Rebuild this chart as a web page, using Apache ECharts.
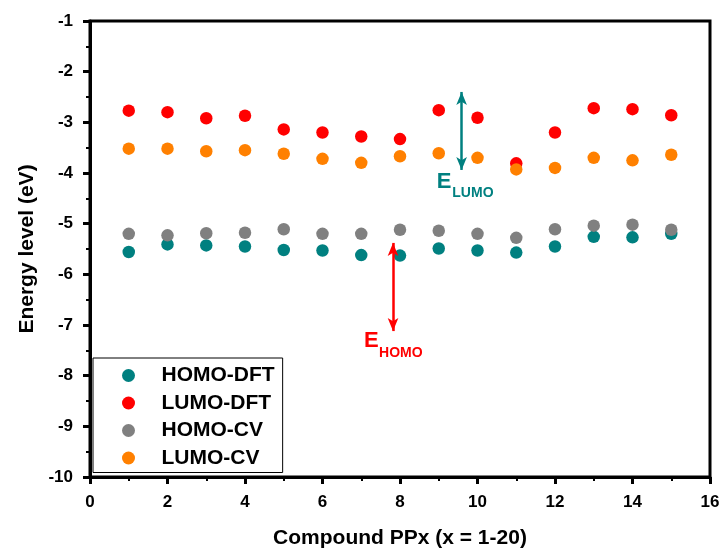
<!DOCTYPE html>
<html>
<head>
<meta charset="utf-8">
<script src="https://cdn.jsdelivr.net/npm/echarts@6/dist/echarts.min.js"></script>
<style>
html,body{margin:0;padding:0;background:#fff;}
#chart{width:721px;height:551px;}
</style>
</head>
<body>
<div id="chart"></div>
<script>
const compounds = [1,2,3,4,5,6,7,8,9,10,11,12,13,14,15];
const homoDFT = [-5.56,-5.41,-5.43,-5.45,-5.52,-5.53,-5.62,-5.63,-5.49,-5.53,-5.57,-5.45,-5.26,-5.27,-5.20];
const lumoDFT = [-2.77,-2.80,-2.92,-2.87,-3.14,-3.20,-3.28,-3.33,-2.76,-2.91,-3.81,-3.20,-2.72,-2.74,-2.86];
const homoCV  = [-5.20,-5.23,-5.19,-5.18,-5.11,-5.20,-5.20,-5.12,-5.14,-5.20,-5.28,-5.11,-5.04,-5.02,-5.12];
const lumoCV  = [-3.52,-3.52,-3.57,-3.55,-3.62,-3.72,-3.80,-3.67,-3.61,-3.70,-3.93,-3.90,-3.70,-3.75,-3.64];
const seriesNames = ['HOMO-DFT','LUMO-DFT','HOMO-CV','LUMO-CV'];
const seriesColors = ['#008080','#ff0000','#808080','#ff8000'];
// annotation arrows (data coordinates)
const lumoArrow = [[9.59,-2.40],[9.59,-3.94]];
const homoArrow = [[7.82,-5.38],[7.82,-7.12]];
// annotation labels: [main letter pos, subscript pos] in data coords
const lumoLabel = {main:[8.95,-4.17], sub:[9.35,-4.40], text:'LUMO'};
const homoLabel = {main:[7.07,-7.32], sub:[7.46,-7.56], text:'HOMO'};

const FONT = "'Liberation Sans', Arial, sans-serif";
const chart = echarts.init(document.getElementById('chart'), null, {renderer:'canvas'});
const allData = [homoDFT, lumoDFT, homoCV, lumoCV];

function pairs(arr){ return compounds.map((c,i)=>[c, arr[i]]); }

const series = allData.map((arr, i) => ({
  name: seriesNames[i],
  type: 'scatter',
  data: pairs(arr),
  symbol: 'circle',
  symbolSize: 12.5,
  itemStyle: {color: seriesColors[i], opacity: 1},
  emphasis: {disabled: true},
  z: 3 + i
}));
series[0].markLine = {
  silent: true, symbol: ['arrow','arrow'], symbolSize: [8,13],
  label: {show:false},
  lineStyle: {color:'#ff0000', width:2.5, type:'solid'},
  data: [[{coord: homoArrow[0]}, {coord: homoArrow[1]}]]
};
series[3].markLine = {
  silent: true, symbol: ['arrow','arrow'], symbolSize: [8,13],
  label: {show:false},
  lineStyle: {color:'#008080', width:2.5, type:'solid'},
  data: [[{coord: lumoArrow[0]}, {coord: lumoArrow[1]}]]
};

const axisCommon = {
  axisLine: {show:true, onZero:false, lineStyle:{color:'#000', width:3}},
  axisTick: {show:true, inside:false, length:7, lineStyle:{color:'#000', width:3}},
  minorTick: {show:true, splitNumber:2, length:4, lineStyle:{color:'#000', width:2}},
  splitLine: {show:false},
  minorSplitLine: {show:false},
  axisLabel: {color:'#000', fontFamily:FONT, fontWeight:'bold', fontSize:17},
  nameTextStyle: {color:'#000', fontFamily:FONT, fontWeight:'bold', fontSize:21}
};

chart.setOption({
  animation: false,
  backgroundColor: '#fff',
  grid: {left:90, right:11, top:21, bottom:74, containLabel:false, outerBoundsMode:'none',
         show:true, borderColor:'#000', borderWidth:3, backgroundColor:'transparent'},
  xAxis: Object.assign({}, axisCommon, {
    type:'value', min:0, max:16, interval:2,
    name:'Compound PPx (x = 1-20)', nameLocation:'middle', nameGap:51,
    axisLabel: Object.assign({}, axisCommon.axisLabel, {margin:17})
  }),
  yAxis: Object.assign({}, axisCommon, {
    type:'value', min:-10, max:-1, interval:1,
    name:'Energy level (eV)', nameLocation:'middle', nameGap:50,
    axisLabel: Object.assign({}, axisCommon.axisLabel, {margin:17})
  }),
  legend: {
    orient:'vertical', left:93, top:358,
    data: seriesNames.map(n => ({name:n, icon:'circle'})),
    itemWidth:56, itemHeight:13, itemGap:6.5,
    padding:[7,8,4,29],
    borderColor:'#000', borderWidth:1,
    backgroundColor:'#fff',
    selectedMode:false,
    textStyle:{color:'#000', fontFamily:FONT, fontWeight:'bold', fontSize:21}
  },
  series: series
});

function labelGraphics(lbl, color){
  const m = chart.convertToPixel({gridIndex:0}, lbl.main);
  const s = chart.convertToPixel({gridIndex:0}, lbl.sub);
  return [
    {type:'text', x:m[0], y:m[1], z:100, style:{text:'E', fill:color, font:"bold 22px " + FONT, textAlign:'left', textVerticalAlign:'middle'}},
    {type:'text', x:s[0], y:s[1], z:100, style:{text:lbl.text, fill:color, font:"bold 14px " + FONT, textAlign:'left', textVerticalAlign:'middle'}}
  ];
}
chart.setOption({graphic: labelGraphics(lumoLabel,'#008080').concat(labelGraphics(homoLabel,'#ff0000'))});
</script>
</body>
</html>
